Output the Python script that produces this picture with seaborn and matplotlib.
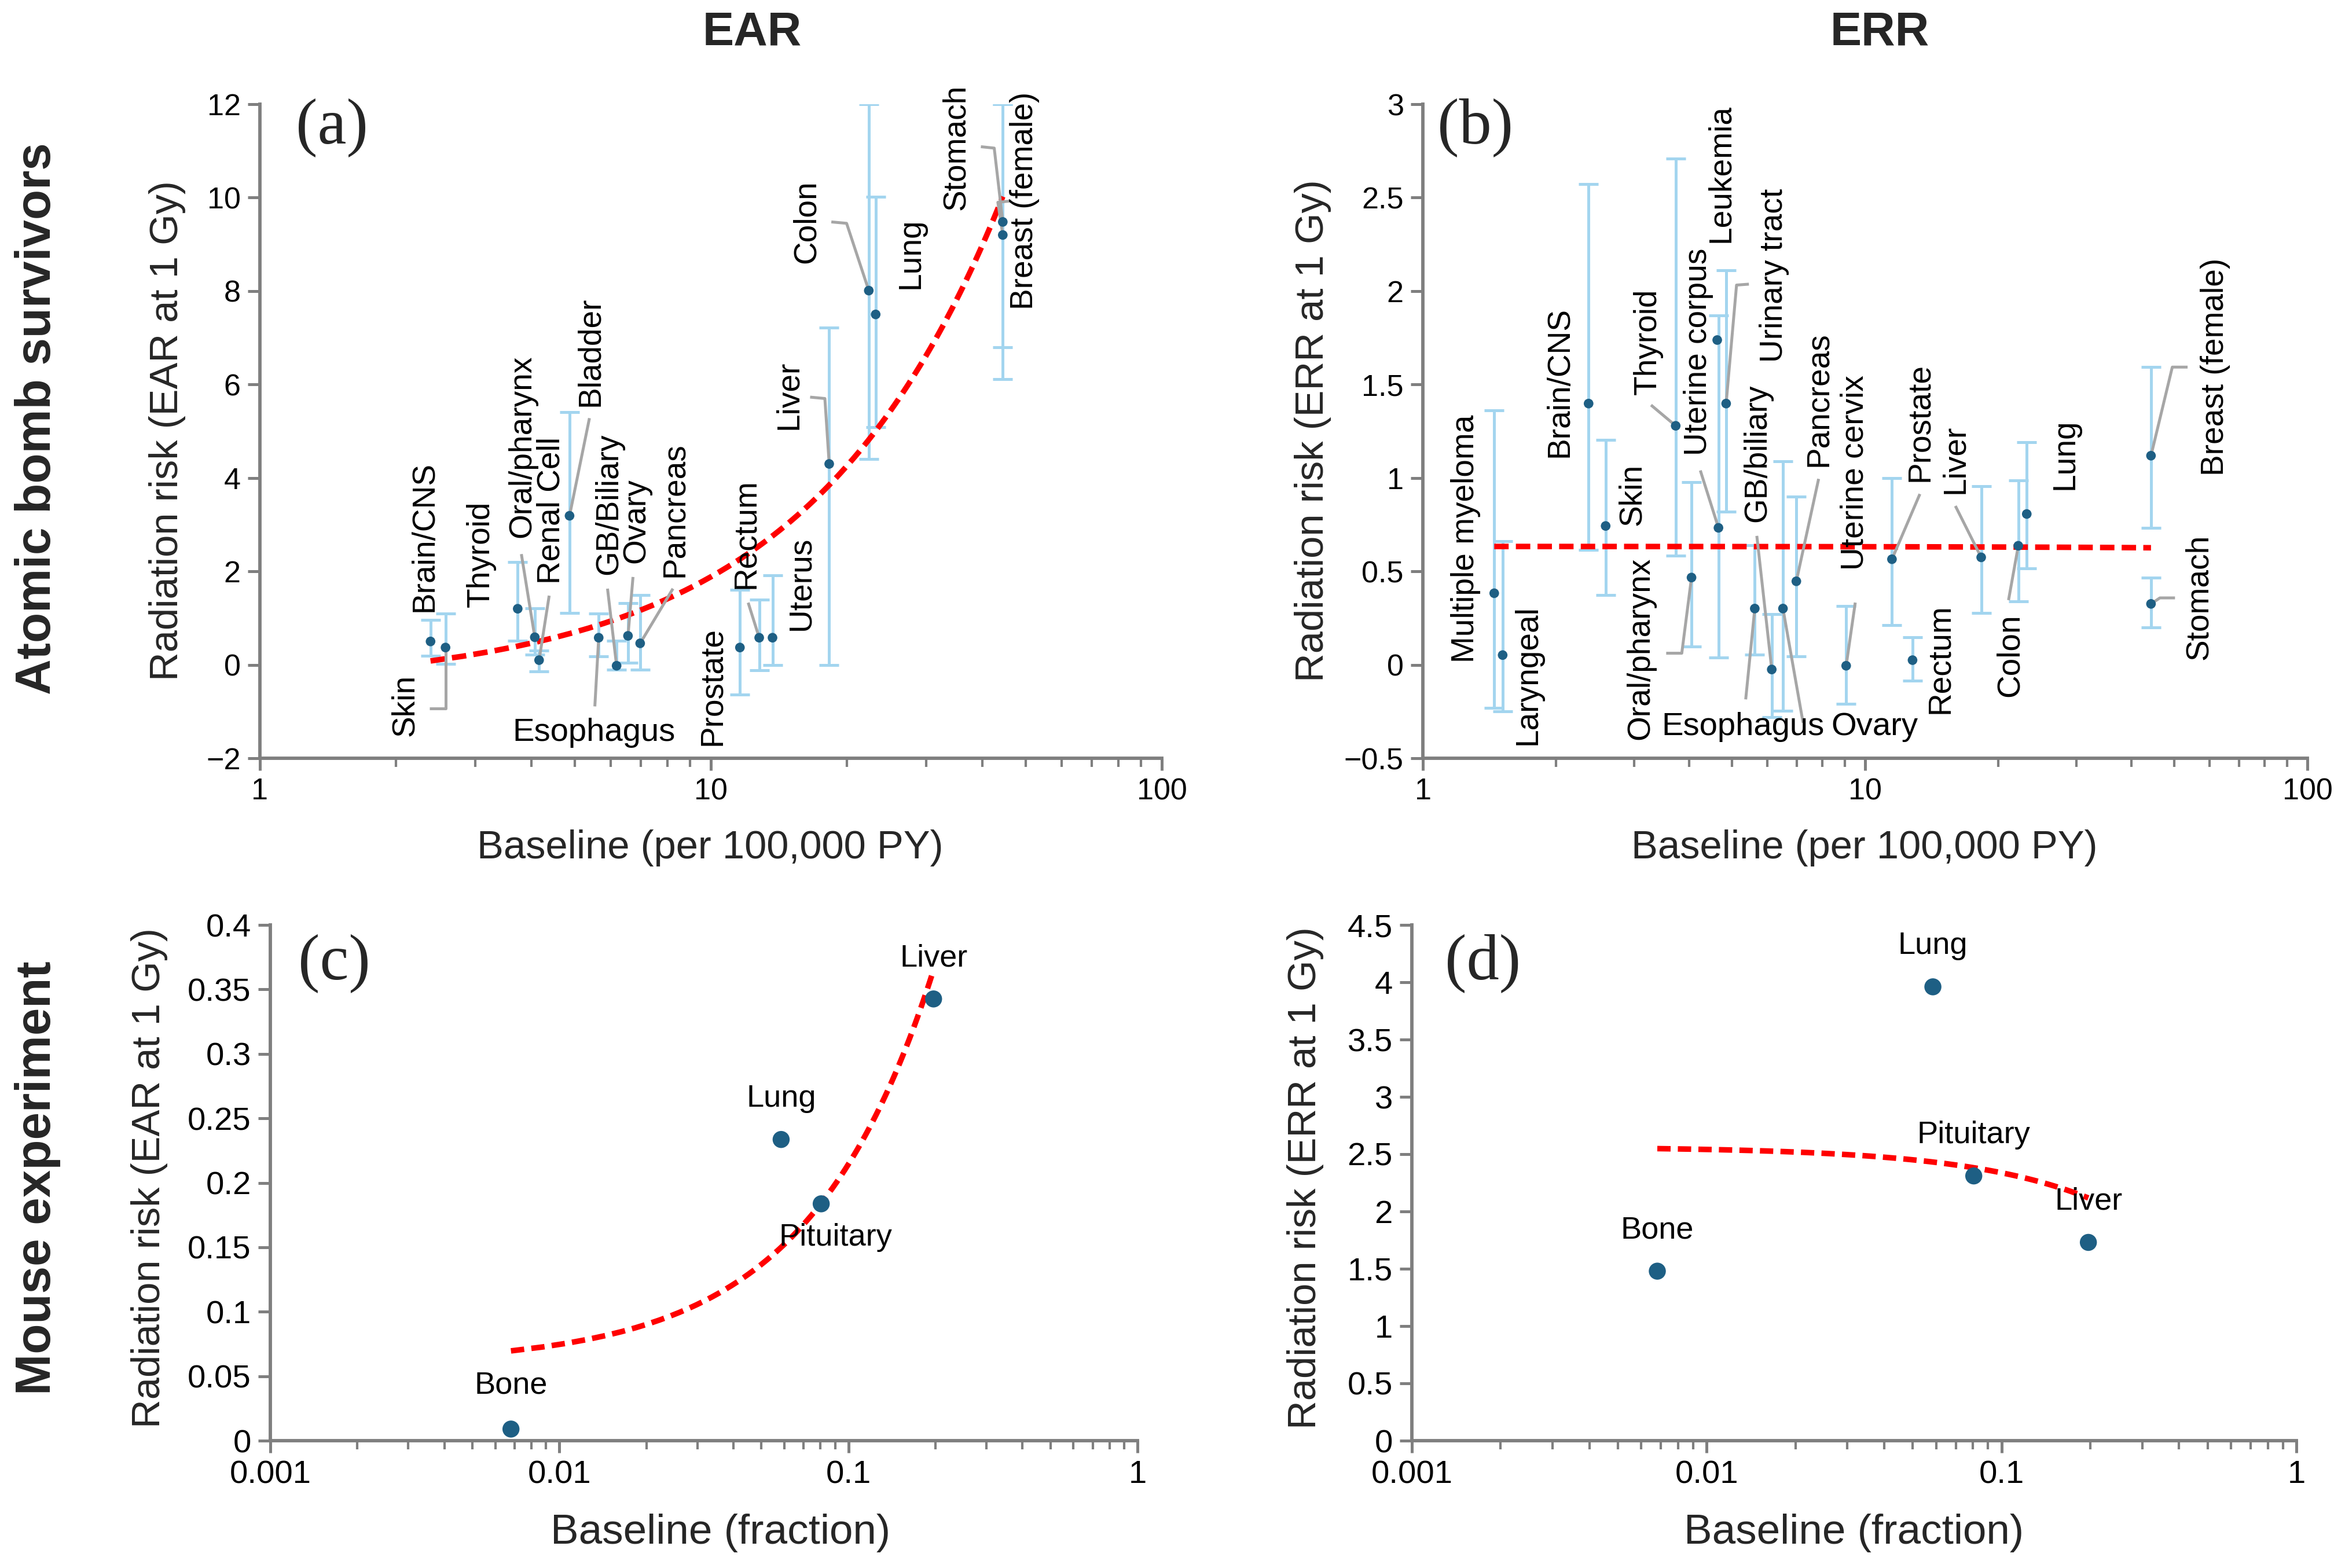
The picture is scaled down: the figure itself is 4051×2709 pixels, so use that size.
import numpy as np
import pandas as pd
import matplotlib
matplotlib.use("Agg")
import matplotlib.pyplot as plt
import seaborn as sns
from matplotlib import font_manager as fm
from matplotlib.ticker import FuncFormatter, LogLocator, NullFormatter, MultipleLocator

# ----------------------------------------------------------------- data
# (a) Atomic bomb survivors, EAR at 1 Gy vs baseline (per 100,000 PY)
a_organ = ["Skin", "Brain/CNS", "Thyroid", "Oral/pharynx", "Renal Cell", "Bladder",
           "Esophagus", "GB/Biliary", "Ovary", "Pancreas", "Prostate", "Rectum",
           "Uterus", "Liver", "Colon", "Lung", "Stomach", "Breast (female)"]
a_baseline = [2.58, 2.39, 3.73, 4.07, 4.16, 4.86, 5.64, 6.18, 6.55, 6.97,
              11.6, 12.8, 13.7, 18.3, 22.4, 23.2, 44.4, 44.4]
a_ear = [0.37, 0.50, 1.20, 0.59, 0.10, 3.19, 0.58, -0.02, 0.62, 0.46,
         0.37, 0.58, 0.58, 4.30, 8.01, 7.50, 9.48, 9.20]
a_lo = [0.02, 0.19, 0.52, 0.22, -0.14, 1.11, 0.18, -0.10, 0.04, -0.11,
        -0.64, -0.12, 0.00, 0.00, 4.41, 5.09, 6.80, 6.12]
a_hi = [1.10, 0.96, 2.20, 1.21, 0.30, 5.41, 1.10, 0.51, 1.32, 1.49,
        1.61, 1.40, 1.92, 7.22, 12.00, 10.02, 12.00, 12.00]

# (b) Atomic bomb survivors, ERR at 1 Gy vs baseline (per 100,000 PY)
b_organ = ["Multiple myeloma", "Laryngeal", "Brain/CNS", "Skin", "Thyroid", "Oral/pharynx",
           "Uterine corpus", "Leukemia", "Urinary tract", "Esophagus", "GB/biliary", "Ovary",
           "Pancreas", "Uterine cervix", "Prostate", "Rectum", "Liver", "Colon", "Lung",
           "Breast (female)", "Stomach"]
b_baseline = [1.45, 1.515, 2.37, 2.59, 3.73, 4.05, 4.66, 4.63, 4.85, 5.63, 6.15, 6.52,
              6.99, 9.06, 11.5, 12.8, 18.3, 22.2, 23.2, 44.3, 44.3]
b_err = [0.383, 0.052, 1.398, 0.743, 1.279, 0.467, 0.733, 1.738, 1.398, 0.301, -0.025,
         0.301, 0.447, -0.005, 0.565, 0.025, 0.575, 0.637, 0.807, 1.119, 0.326]
b_lo = [-0.23, -0.25, 0.615, 0.375, 0.585, 0.099, 0.04, np.nan, 0.82, 0.054, -0.28,
        -0.245, 0.045, -0.21, 0.212, -0.086, 0.277, 0.338, 0.516, 0.733, 0.20]
b_hi = [1.363, 0.66, 2.573, 1.205, 2.709, 0.978, 1.87, np.nan, 2.11, 0.64, 0.27,
        1.09, 0.90, 0.314, 1.00, 0.148, 0.956, 0.988, 1.19, 1.593, 0.467]

# (c), (d) Mouse experiment vs baseline (fraction)
m_organ = ["Bone", "Lung", "Pituitary", "Liver"]
m_baseline = [0.0068, 0.0585, 0.0805, 0.197]
m_ear = [0.009, 0.2336, 0.1837, 0.3426]
m_err = [1.479, 3.96, 2.31, 1.73]

# ----------------------------------------------------------------- label layout (positions only)
# organ -> (x, y, rotation, ha, va) in data coordinates
a_lab = {
    "Skin": (2.10, -1.53, 90, "center", "bottom"),
    "Brain/CNS": (2.32, 1.14, 90, "center", "bottom"),
    "Thyroid": (3.09, 1.23, 90, "center", "bottom"),
    "Oral/pharynx": (3.82, 2.72, 90, "center", "bottom"),
    "Renal Cell": (4.43, 1.73, 90, "center", "bottom"),
    "Bladder": (5.41, 5.53, 90, "center", "bottom"),
    "GB/Biliary": (5.95, 1.93, 90, "center", "bottom"),
    "Ovary": (6.83, 2.17, 90, "center", "bottom"),
    "Pancreas": (8.32, 1.88, 90, "center", "bottom"),
    "Esophagus": (5.50, -1.45, 0, "center", "center"),
    "Prostate": (10.1, -1.73, 90, "center", "bottom"),
    "Rectum": (11.96, 1.63, 90, "center", "bottom"),
    "Uterus": (15.85, 0.74, 90, "center", "bottom"),
    "Liver": (14.9, 5.04, 90, "center", "bottom"),
    "Colon": (16.3, 8.59, 90, "center", "bottom"),
    "Lung": (27.8, 8.05, 90, "center", "bottom"),
    "Stomach": (35.0, 9.73, 90, "center", "bottom"),
    "Breast (female)": (49.7, 7.60, 90, "center", "bottom"),
}
a_leader = {
    "Skin": [(2.375, -0.94), (2.58, -0.94)],
    "Oral/pharynx": [(3.80, 2.37)],
    "Renal Cell": [(4.38, 1.48)],
    "Bladder": [(5.38, 5.28)],
    "GB/Biliary": [(5.90, 1.63)],
    "Ovary": [(6.72, 1.88)],
    "Pancreas": [(8.24, 1.63)],
    "Esophagus": [(5.53, -0.89)],
    "Rectum": [(12.1, 1.33)],
    "Liver": [(16.6, 5.73), (17.9, 5.70)],
    "Colon": [(18.5, 9.48), (20.0, 9.45)],
    "Stomach": [(39.7, 11.09), (42.5, 11.06)],
    "Breast (female)": [(46.4, 9.93), (43.3, 9.90)],
}
b_lab = {
    "Multiple myeloma": (1.25, 0.012, 90, "center", "bottom"),
    "Laryngeal": (1.73, -0.43, 90, "center", "bottom"),
    "Brain/CNS": (2.04, 1.11, 90, "center", "bottom"),
    "Skin": (2.98, 0.746, 90, "center", "bottom"),
    "Thyroid": (3.23, 1.444, 90, "center", "bottom"),
    "Oral/pharynx": (3.11, -0.40, 90, "center", "bottom"),
    "Uterine corpus": (4.20, 1.12, 90, "center", "bottom"),
    "Leukemia": (4.72, 2.26, 90, "center", "bottom"),
    "Urinary tract": (6.23, 1.62, 90, "center", "bottom"),
    "GB/biliary": (5.72, 0.765, 90, "center", "bottom"),
    "Esophagus": (5.30, -0.333, 0, "center", "center"),
    "Ovary": (10.5, -0.333, 0, "center", "center"),
    "Pancreas": (7.85, 1.06, 90, "center", "bottom"),
    "Uterine cervix": (9.50, 0.506, 90, "center", "bottom"),
    "Prostate": (13.3, 0.98, 90, "center", "bottom"),
    "Liver": (16.0, 0.914, 90, "center", "bottom"),
    "Rectum": (14.8, -0.26, 90, "center", "bottom"),
    "Colon": (21.3, -0.173, 90, "center", "bottom"),
    "Lung": (28.3, 0.938, 90, "center", "bottom"),
    "Breast (female)": (61.9, 1.01, 90, "center", "bottom"),
    "Stomach": (56.9, 0.025, 90, "center", "bottom"),
}
b_leader = {
    "Thyroid": [(3.28, 1.39)],
    "Oral/pharynx": [(3.55, 0.062), (3.85, 0.062)],
    "Uterine corpus": [(4.24, 1.04)],
    "Urinary tract": [(5.46, 2.037), (5.12, 2.032)],
    "GB/biliary": [(5.69, 0.69)],
    "Esophagus": [(5.37, -0.185)],
    "Ovary": [(7.24, -0.31)],
    "Pancreas": [(7.85, 0.995)],
    "Uterine cervix": [(9.5, 0.333)],
    "Prostate": [(13.3, 0.914)],
    "Liver": [(16.0, 0.85)],
    "Colon": [(21.1, 0.346)],
    "Breast (female)": [(53.6, 1.593), (49.5, 1.593)],
    "Stomach": [(50.2, 0.358), (46.4, 0.358)],
}
# mouse label offsets in points
c_off = {"Bone": (0, 18), "Lung": (0, 17), "Pituitary": (6, -14), "Liver": (0, 17)}
d_off = {"Bone": (0, 17), "Lung": (0, 17), "Pituitary": (0, 17), "Liver": (0, 17)}

# ----------------------------------------------------------------- style
sns.set_theme(style="ticks")
avail = {f.name for f in fm.fontManager.ttflist}
SANS = "Liberation Sans" if "Liberation Sans" in avail else "DejaVu Sans"
NARROW = "Liberation Sans Narrow" if "Liberation Sans Narrow" in avail else SANS
SERIF = "Liberation Serif" if "Liberation Serif" in avail else "DejaVu Serif"
plt.rcParams["font.family"] = [SANS, "DejaVu Sans"]
plt.rcParams["axes.unicode_minus"] = True

DOT = "#1E5F84"
EBAR = "#A3D5EF"
TREND = "#FF0000"
LEAD = "#A6A6A6"
SPINE = "#7F7F7F"

W, H = 4051, 2709
fig = plt.figure(figsize=(W / 300, H / 300), dpi=300)


def fx(px):
    return px / W


def fy(py):
    return 1 - py / H


def axes_px(l, r, t, b):
    return fig.add_axes([fx(l), fy(b), (r - l) / W, (b - t) / H])


ax_a = axes_px(449, 2007, 180, 1310)
ax_b = axes_px(2458, 3986, 180, 1310)
ax_c = axes_px(467, 1965, 1598, 2489)
ax_d = axes_px(2439, 3967, 1598, 2489)

fmt_g = FuncFormatter(lambda v, p: f"{v:g}".replace("-", "\u2212"))


def style_axes(ax, xlim, ylim, ystep, tickfont, ticksize):
    ax.set_xscale("log")
    ax.set_xlim(*xlim)
    ax.set_ylim(*ylim)
    ax.yaxis.set_major_locator(MultipleLocator(ystep))
    ax.yaxis.set_major_formatter(fmt_g)
    ax.xaxis.set_major_locator(LogLocator(base=10, numticks=12))
    ax.xaxis.set_minor_locator(LogLocator(base=10, subs=np.arange(2, 10), numticks=60))
    ax.xaxis.set_major_formatter(fmt_g)
    ax.xaxis.set_minor_formatter(NullFormatter())
    for s in ["top", "right"]:
        ax.spines[s].set_visible(False)
    for s in ["left", "bottom"]:
        ax.spines[s].set_color(SPINE)
        ax.spines[s].set_linewidth(1.4)
    ax.tick_params(axis="both", which="major", direction="out", length=5, width=1.2,
                   color=SPINE, labelsize=ticksize, labelcolor="black", pad=3,
                   labelfontfamily=tickfont)
    ax.tick_params(axis="x", which="minor", direction="out", length=3.5, width=1.0, color=SPINE)
    ax.set_xlabel("")
    ax.set_ylabel("")
    ax.grid(False)


def survivor_panel(ax, organ, x, y, lo, hi, labs, leaders):
    df = pd.DataFrame({"organ": organ, "x": x, "y": y, "lo": lo, "hi": hi})
    m = df["lo"].notna()
    ax.errorbar(df.loc[m, "x"], df.loc[m, "y"],
                yerr=[df.loc[m, "y"] - df.loc[m, "lo"], df.loc[m, "hi"] - df.loc[m, "y"]],
                fmt="none", ecolor=EBAR, elinewidth=1.2, capsize=4, capthick=1.2, zorder=2)
    sns.regplot(data=df, x="x", y="y", ax=ax, scatter=False, ci=None, truncate=True,
                line_kws=dict(color=TREND, lw=2.3, ls=(0, (2.6, 1.3)), zorder=3))
    pts = df.set_index("organ")
    for name, path in leaders.items():
        xs = [p[0] for p in path] + [pts.loc[name, "x"]]
        ys = [p[1] for p in path] + [pts.loc[name, "y"]]
        ax.plot(xs, ys, color=LEAD, lw=1.2, zorder=3.5, solid_capstyle="butt")
    sns.scatterplot(data=df, x="x", y="y", ax=ax, color=DOT, s=16, edgecolor="none",
                    zorder=4, legend=False)
    for name, (tx, ty, rot, ha, va) in labs.items():
        ax.text(tx, ty, name, rotation=rot, ha=ha, va=va,
                fontsize=13.2 if rot else 13.5, color="black", zorder=5)


def mouse_panel(ax, organ, x, y, offs):
    df = pd.DataFrame({"organ": organ, "x": x, "y": y})
    sns.regplot(data=df, x="x", y="y", ax=ax, scatter=False, ci=None, truncate=True,
                line_kws=dict(color=TREND, lw=2.3, ls=(0, (2.4, 1.3)), zorder=3))
    sns.scatterplot(data=df, x="x", y="y", ax=ax, color=DOT, s=50, edgecolor="none",
                    zorder=4, legend=False)
    for _, r in df.iterrows():
        ax.annotate(r["organ"], (r["x"], r["y"]), xytext=offs[r["organ"]],
                    textcoords="offset points", ha="center", va="center",
                    fontsize=13, family=NARROW, color="black")


survivor_panel(ax_a, a_organ, a_baseline, a_ear, a_lo, a_hi, a_lab, a_leader)
survivor_panel(ax_b, b_organ, b_baseline, b_err, b_lo, b_hi, b_lab, b_leader)
mouse_panel(ax_c, m_organ, m_baseline, m_ear, c_off)
mouse_panel(ax_d, m_organ, m_baseline, m_err, d_off)

style_axes(ax_a, (1, 100), (-2, 12), 2, SANS, 12.5)
style_axes(ax_b, (1, 100), (-0.5, 3), 0.5, SANS, 12.5)
style_axes(ax_c, (0.001, 1), (0, 0.4), 0.05, NARROW, 13.5)
style_axes(ax_d, (0.001, 1), (0, 4.5), 0.5, NARROW, 13.5)

# ----------------------------------------------------------------- figure texts
fig.text(fx(1299), fy(57), "EAR", ha="center", va="center", fontsize=19.5, fontweight="bold")
fig.text(fx(3247), fy(57), "ERR", ha="center", va="center", fontsize=19.5, fontweight="bold")
fig.text(fx(65), fy(723), "Atomic bomb survivors", rotation=90, ha="center", va="center",
         fontsize=20.5, fontweight="bold")
fig.text(fx(65), fy(2035), "Mouse experiment", rotation=90, ha="center", va="center",
         fontsize=20.5, fontweight="bold")

fig.text(fx(289), fy(744), "Radiation risk (EAR at 1 Gy)", rotation=90, ha="center", va="center", fontsize=16.5)
fig.text(fx(2268), fy(744), "Radiation risk (ERR at 1 Gy)", rotation=90, ha="center", va="center", fontsize=16.5)
fig.text(fx(258), fy(2035), "Radiation risk (EAR at 1 Gy)", rotation=90, ha="center", va="center", fontsize=16.5)
fig.text(fx(2255), fy(2035), "Radiation risk (ERR at 1 Gy)", rotation=90, ha="center", va="center", fontsize=16.5)

fig.text(fx(1227), fy(1465), "Baseline (per 100,000 PY)", ha="center", va="center", fontsize=16.5)
fig.text(fx(3221), fy(1465), "Baseline (per 100,000 PY)", ha="center", va="center", fontsize=16.5)
fig.text(fx(1245), fy(2648), "Baseline (fraction)", ha="center", va="center", fontsize=17.5, family=NARROW)
fig.text(fx(3203), fy(2648), "Baseline (fraction)", ha="center", va="center", fontsize=17.5, family=NARROW)

for (px, py), lab in zip([(573, 220), (2549, 220), (577, 1664), (2562, 1664)],
                         ["(a)", "(b)", "(c)", "(d)"]):
    fig.text(fx(px), fy(py), lab, ha="center", va="center", fontsize=27, family=SERIF)

fig.savefig("out.png", dpi=300)
